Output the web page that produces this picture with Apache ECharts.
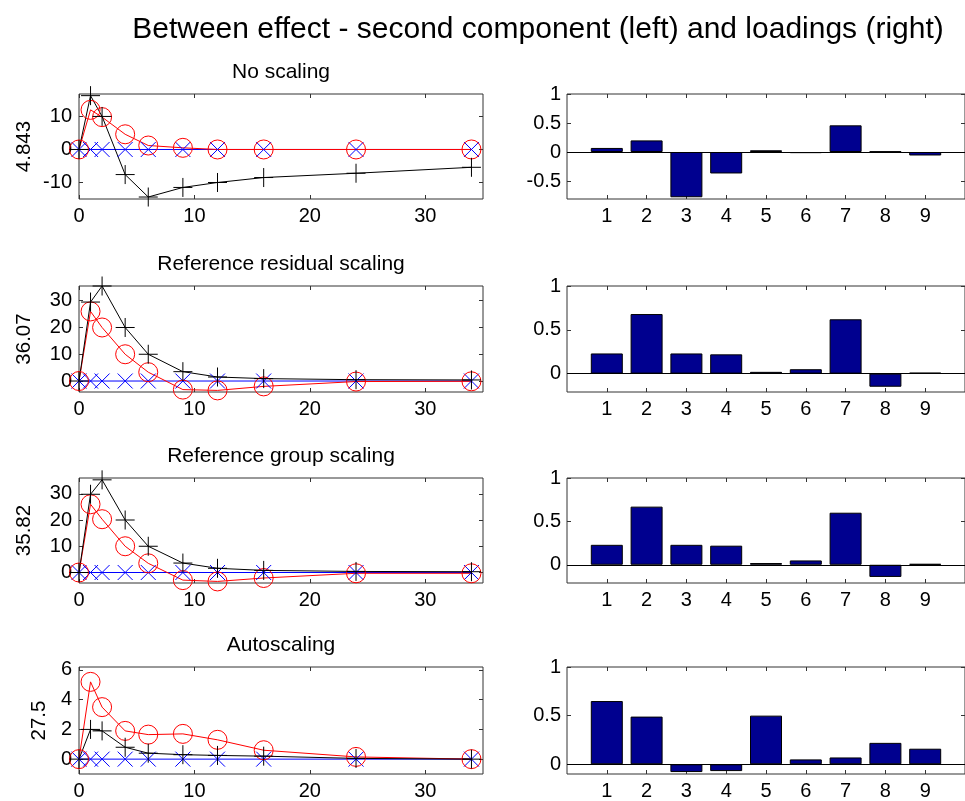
<!DOCTYPE html>
<html>
<head>
<meta charset="utf-8">
<title>Between effect - second component and loadings</title>
<script src="https://cdn.jsdelivr.net/npm/echarts@6/dist/echarts.min.js"></script>
<style>
  html, body { margin: 0; padding: 0; background: #fff; }
  #main { width: 965px; height: 801px; }
</style>
</head>
<body>
<div id="main"></div>
<script>
// x values of the score panels (time points)
var timePoints = [0, 1, 2, 4, 6, 9, 12, 16, 24, 34];
// x values of the loading panels (variables)
var variables = [1, 2, 3, 4, 5, 6, 7, 8, 9];

var panelTitles = ['No scaling', 'Reference residual scaling', 'Reference group scaling', 'Autoscaling'];
var panelYNames = ['4.843', '36.07', '35.82', '27.5'];

// scores: black '+', red 'o', blue 'x'
var blackNoScale = [0, 16.3, 10, -7.6, -14.4, -11.5, -10, -8.5, -7.2, -5.4];
var redNoScale   = [0, 12, 9.8, 4.6, 1.2, 0.5, 0, 0, 0, 0];
var blackResid   = [0, 29.5, 35.5, 20, 10, 3.5, 1.5, 0.9, 0.5, 0.4];
var redResid     = [0, 26, 20, 10, 3.3, -3.2, -3.5, -2, -0.2, -0.1];
var blackGroup   = [0, 29.8, 35.3, 20, 10, 3.6, 1.6, 0.8, 0.4, 0.3];
var redGroup     = [0, 26, 20.3, 10, 3.5, -2.9, -3.4, -2.1, -0.3, -0.3];
var blackAuto    = [0, 2, 1.9, 0.8, 0.4, 0.3, 0.25, 0.2, 0.05, 0];
var redAuto      = [0, 5.2, 3.5, 1.9, 1.65, 1.7, 1.3, 0.6, 0.15, 0];
var blueZero     = [0, 0, 0, 0, 0, 0, 0, 0, 0, 0];

// loadings
var loadNoScale = [0.07, 0.2, -0.78, -0.37, 0.03, -0.02, 0.46, 0.01, -0.06];
var loadResid   = [0.23, 0.68, 0.23, 0.22, 0.02, 0.05, 0.62, -0.15, 0.01];
var loadGroup   = [0.23, 0.67, 0.23, 0.22, 0.02, 0.05, 0.6, -0.14, 0.01];
var loadAuto    = [0.65, 0.49, -0.08, -0.07, 0.5, 0.05, 0.07, 0.22, 0.16];

// axis ranges and tick labels
var timeTicks = [0, 10, 20, 30];
var scoreYMin = [-15, -4.1, -4, -1];
var scoreYMax = [16.8, 35.5, 36, 6.2];
var scoreYTicks = [[-10, 0, 10], [0, 10, 20, 30], [0, 10, 20, 30], [0, 2, 4, 6]];
var loadYMin = [-0.81, -0.21, -0.21, -0.1];
var loadYMax = [1, 1, 1, 1];
var loadYTicks = [[-0.5, 0, 0.5, 1], [0, 0.5, 1], [0, 0.5, 1], [0, 0.5, 1]];

var blackSeries = [blackNoScale, blackResid, blackGroup, blackAuto];
var redSeries = [redNoScale, redResid, redGroup, redAuto];
var loadSeries = [loadNoScale, loadResid, loadGroup, loadAuto];

var FONT = '"Liberation Sans", Arial, Helvetica, sans-serif';
var rowTop = [94, 286, 478, 667];
var rowHeight = [105, 106, 105, 107];
var yNameX = [24, 24, 24, 39];

var plusPath = 'path://M0,10 L20,10 M10,0 L10,20';
var crossPath = 'path://M0,0 L20,20 M20,0 L0,20';

function pairXY(xs, ys) {
  return xs.map(function (x, i) { return [x, ys[i]]; });
}

var grids = [], xAxes = [], yAxes = [], series = [], graphics = [];

function addAxes(gi, xMin, xMax, xTicks, yMin, yMax, yTicks, yLabelMargin) {
  var common = {
    gridIndex: gi,
    type: 'value',
    axisLine: { show: false, onZero: false },
    splitLine: { show: false }
  };
  // bottom + top x axes
  xAxes.push(Object.assign({}, common, {
    position: 'bottom', min: xMin, max: xMax,
    axisTick: { inside: true, length: 4, lineStyle: { color: '#333' }, customValues: xTicks },
    axisLabel: { margin: 7, fontSize: 20, color: '#000', fontFamily: FONT, customValues: xTicks }
  }));
  xAxes.push(Object.assign({}, common, {
    position: 'top', min: xMin, max: xMax,
    axisTick: { inside: true, length: 4, lineStyle: { color: '#333' }, customValues: xTicks },
    axisLabel: { show: false }
  }));
  // left + right y axes
  yAxes.push(Object.assign({}, common, {
    position: 'left', min: yMin, max: yMax,
    axisTick: { inside: true, length: 4, lineStyle: { color: '#333' }, customValues: yTicks },
    axisLabel: { margin: yLabelMargin, fontSize: 20, color: '#000', fontFamily: FONT, customValues: yTicks }
  }));
  yAxes.push(Object.assign({}, common, {
    position: 'right', min: yMin, max: yMax,
    axisTick: { inside: true, length: 4, lineStyle: { color: '#333' }, customValues: yTicks },
    axisLabel: { show: false }
  }));
}

function textEl(x, y, text, size, rot) {
  return {
    type: 'text', x: x, y: y, rotation: rot || 0,
    style: { text: text, font: size + 'px ' + FONT, fill: '#000',
      align: 'center', verticalAlign: 'middle', textAlign: 'center', textVerticalAlign: 'middle' }
  };
}

for (var r = 0; r < 4; r++) {
  var gL = r * 2, gR = r * 2 + 1;
  grids.push({ left: 79, width: 404, top: rowTop[r], height: rowHeight[r],
    show: true, borderColor: '#333', borderWidth: 1, backgroundColor: 'transparent' });
  grids.push({ left: 567, width: 404, top: rowTop[r], height: rowHeight[r],
    show: true, borderColor: '#333', borderWidth: 1, backgroundColor: 'transparent' });

  addAxes(gL, 0, 35, timeTicks, scoreYMin[r], scoreYMax[r], scoreYTicks[r], 7);
  addAxes(gR, 0, 10, variables, loadYMin[r], loadYMax[r], loadYTicks[r], 6);

  // score curves
  series.push({
    type: 'line', xAxisIndex: gL * 2, yAxisIndex: gL * 2,
    data: pairXY(timePoints, blueZero),
    symbol: crossPath, symbolSize: 15,
    itemStyle: { color: 'transparent', borderColor: '#0000ff', borderWidth: 1 },
    lineStyle: { color: '#0000ff', width: 1 }
  });
  series.push({
    type: 'line', xAxisIndex: gL * 2, yAxisIndex: gL * 2,
    data: pairXY(timePoints, redSeries[r]),
    symbol: 'circle', symbolSize: 19,
    itemStyle: { color: 'transparent', borderColor: '#ff0000', borderWidth: 1 },
    lineStyle: { color: '#ff0000', width: 1 }
  });
  series.push({
    type: 'line', xAxisIndex: gL * 2, yAxisIndex: gL * 2,
    data: pairXY(timePoints, blackSeries[r]),
    symbol: plusPath, symbolSize: 19,
    itemStyle: { color: 'transparent', borderColor: '#000', borderWidth: 1 },
    lineStyle: { color: '#000', width: 1 }
  });

  // loadings
  series.push({
    type: 'bar', xAxisIndex: gR * 2, yAxisIndex: gR * 2,
    data: pairXY(variables, loadSeries[r]),
    barWidth: 32,
    itemStyle: { color: '#00008f', borderColor: '#000', borderWidth: 1 },
    markLine: {
      silent: true, symbol: ['none', 'none'], label: { show: false },
      lineStyle: { color: '#000', width: 1, type: 'solid' },
      data: [{ yAxis: 0 }]
    }
  });

  graphics.push(textEl(281, rowTop[r] - 22, panelTitles[r], 21));
  graphics.push(textEl(yNameX[r], rowTop[r] + rowHeight[r] / 2, panelYNames[r], 20.5, Math.PI / 2));
}

graphics.push(textEl(538, 30, 'Between effect - second component (left) and loadings (right)', 30));

var chart = echarts.init(document.getElementById('main'), null, { renderer: 'canvas' });
chart.setOption({
  animation: false,
  backgroundColor: '#fff',
  grid: grids,
  xAxis: xAxes,
  yAxis: yAxes,
  series: series,
  graphic: graphics
});
</script>
</body>
</html>
